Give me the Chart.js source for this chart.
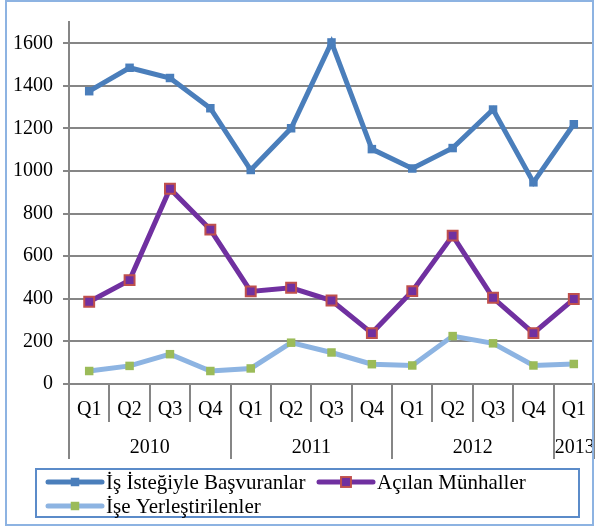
<!DOCTYPE html>
<html>
<head>
<meta charset="utf-8">
<script src="https://cdn.jsdelivr.net/npm/chart.js"></script>
<style>
  html, body { margin: 0; padding: 0; background: #fff; }
  #wrap { position: relative; width: 596px; height: 528px; overflow: hidden; }
  #chart { position: absolute; left: 0; top: 0; }
</style>
</head>
<body>
<div id="wrap"><canvas id="chart" width="603" height="528"></canvas></div>
<script>
// dati
const quarters = ['Q1', 'Q2', 'Q3', 'Q4', 'Q1', 'Q2', 'Q3', 'Q4', 'Q1', 'Q2', 'Q3', 'Q4', 'Q1'];
const years = ['2010', '2011', '2012', '2013'];
const yearSpans = [4, 4, 4, 1];
const yTicks = [0, 200, 400, 600, 800, 1000, 1200, 1400, 1600];

const basvuranlar = [1375, 1485, 1437, 1295, 1005, 1201, 1604, 1103, 1012, 1108, 1289, 947, 1220];
const munhaller = [386, 488, 917, 725, 435, 452, 392, 239, 436, 697, 405, 239, 399];
const yerlestirilenler = [61, 85, 140, 61, 73, 194, 148, 93, 87, 225, 191, 87, 94];

const FONT = '"Liberation Serif", "Times New Roman", serif';

// assi a due livelli, cornice e legenda
const extras = {
  id: 'extras',
  afterDraw(chart) {
    const ctx = chart.ctx;
    const x = chart.scales.x;
    const area = chart.chartArea;
    const w = x.getPixelForValue(1) - x.getPixelForValue(0);
    const base = area.bottom;
    ctx.save();
    ctx.strokeStyle = '#868686';
    ctx.lineWidth = 2;
    // separatori
    const yearEdges = [0];
    yearSpans.reduce((acc, s) => { yearEdges.push(acc + s); return acc + s; }, 0);
    for (let i = 0; i <= quarters.length; i++) {
      const px = Math.round(x.getPixelForValue(i) - w / 2);
      const long = yearEdges.includes(i);
      ctx.beginPath();
      ctx.moveTo(px, base);
      ctx.lineTo(px, base + (long ? 75 : 38));
      ctx.stroke();
    }
    ctx.fillStyle = '#000';
    ctx.font = '20px ' + FONT;
    ctx.textAlign = 'center';
    ctx.textBaseline = 'middle';
    quarters.forEach((q, i) => ctx.fillText(q, x.getPixelForValue(i), base + 26));
    let start = 0;
    years.forEach((yr, j) => {
      const a = x.getPixelForValue(start) - w / 2;
      const b = x.getPixelForValue(start + yearSpans[j] - 1) + w / 2;
      ctx.fillText(yr, (a + b) / 2 + (yearSpans[j] === 1 ? 1 : 0), base + 64);
      start += yearSpans[j];
    });

    // cornice esterna
    ctx.strokeStyle = '#8DB3E2';
    ctx.lineWidth = 2;
    ctx.strokeRect(6, 1, 587, 524);

    // legenda
    ctx.strokeStyle = '#5B8BC9';
    ctx.strokeRect(36, 469, 543, 48);
    const items = [
      { ds: 0, x: 48, y: 482 },
      { ds: 1, x: 319, y: 482 },
      { ds: 2, x: 48, y: 506 }
    ];
    ctx.textAlign = 'left';
    ctx.font = '21px ' + FONT;
    items.forEach(it => {
      const d = chart.data.datasets[it.ds];
      ctx.strokeStyle = d.borderColor;
      ctx.lineWidth = d.borderWidth;
      ctx.lineCap = 'round';
      ctx.beginPath();
      ctx.moveTo(it.x, it.y);
      ctx.lineTo(it.x + 54, it.y);
      ctx.stroke();
      const s = d.pointRadius * Math.SQRT1_2;
      ctx.fillStyle = d.pointBackgroundColor;
      ctx.fillRect(it.x + 27 - s, it.y - s, 2 * s, 2 * s);
      if (d.pointBorderWidth) {
        ctx.strokeStyle = d.pointBorderColor;
        ctx.lineWidth = d.pointBorderWidth;
        ctx.lineCap = 'butt';
        ctx.strokeRect(it.x + 27 - s, it.y - s, 2 * s, 2 * s);
      }
      ctx.fillStyle = '#000';
      ctx.fillText(d.label, it.x + 58, it.y + 1);
    });
    ctx.restore();
  }
};

new Chart(document.getElementById('chart'), {
  type: 'line',
  data: {
    labels: quarters,
    datasets: [
      {
        label: 'İş İsteğiyle Başvuranlar',
        data: basvuranlar,
        borderColor: '#4A7EBB',
        backgroundColor: '#4A7EBB',
        borderWidth: 5,
        pointStyle: 'rect',
        pointRadius: 6,
        pointBackgroundColor: '#4A7EBB',
        pointBorderColor: '#4A7EBB',
        pointBorderWidth: 0,
        tension: 0
      },
      {
        label: 'Açılan Münhaller',
        data: munhaller,
        borderColor: '#7030A0',
        backgroundColor: '#7030A0',
        borderWidth: 5,
        pointStyle: 'rect',
        pointRadius: 7,
        pointBackgroundColor: '#7030A0',
        pointBorderColor: '#C0504D',
        pointBorderWidth: 2,
        tension: 0
      },
      {
        label: 'İşe Yerleştirilenler',
        data: yerlestirilenler,
        borderColor: '#8DB4E2',
        backgroundColor: '#8DB4E2',
        borderWidth: 5,
        pointStyle: 'rect',
        pointRadius: 6,
        pointBackgroundColor: '#9BBB59',
        pointBorderColor: '#9BBB59',
        pointBorderWidth: 0,
        tension: 0
      }
    ]
  },
  options: {
    responsive: false,
    animation: false,
    layout: { padding: { top: 21, right: 0, left: 0, bottom: 0 } },
    plugins: { legend: { display: false }, tooltip: { enabled: false } },
    scales: {
      x: {
        offset: true,
        grid: { display: false, drawTicks: false },
        border: { display: true, color: '#868686', width: 2 },
        ticks: { display: false },
        afterFit: s => { s.height = 144; }
      },
      y: {
        min: 0,
        max: 1700,
        afterBuildTicks: s => { s.ticks = yTicks.map(v => ({ value: v })); },
        afterFit: s => { s.width = 69; },
        grid: { color: '#868686', lineWidth: 2, tickLength: 6 },
        border: { display: true, color: '#868686', width: 2 },
        ticks: {
          color: '#000',
          padding: 10,
          font: { family: FONT, size: 20 },
          callback: v => String(v)
        }
      }
    }
  },
  plugins: [extras]
});
</script>
</body>
</html>
